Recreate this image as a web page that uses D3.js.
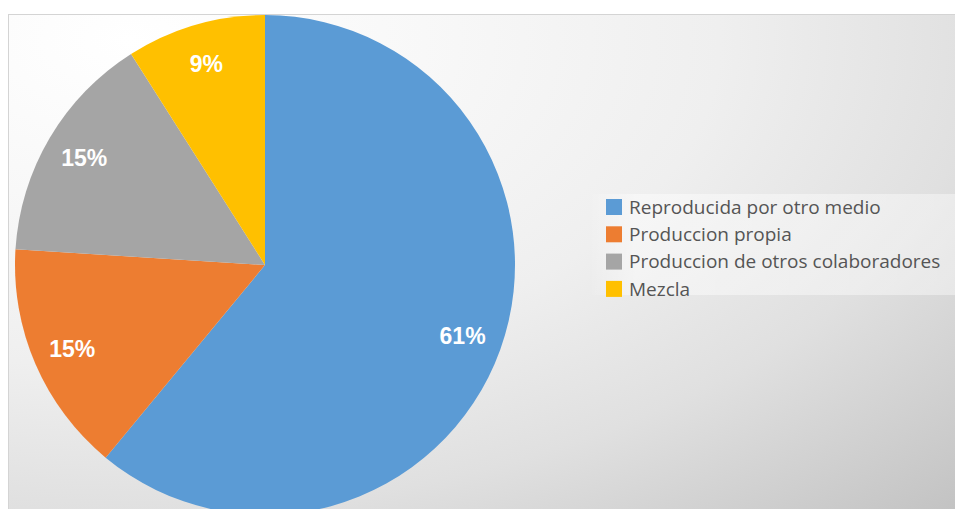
<!DOCTYPE html>
<html>
<head>
<meta charset="utf-8">
<script src="https://cdn.jsdelivr.net/npm/d3@7/dist/d3.min.js"></script>
<style>
  html, body { margin: 0; padding: 0; background: #ffffff; overflow: hidden; }
  svg { display: block; }
</style>
</head>
<body>
<svg id="chart" width="955" height="509"></svg>
<script>
// Source categories and their shares (percent)
const categories = [
  "Reproducida por otro medio",
  "Produccion propia",
  "Produccion de otros colaboradores",
  "Mezcla"
];
const shares = [61, 15, 15, 9];
const sliceColors = ["#5B9BD5", "#ED7D31", "#A5A5A5", "#FFC000"];

const W = 955, H = 509;
const svg = d3.select("#chart");
const defs = svg.append("defs");

// Chart area background: elliptical white-to-grey fade from the upper left
const gx = 130, gy = 40, squash = 1.8;
const bg = defs.append("radialGradient")
  .attr("id", "areaFill")
  .attr("gradientUnits", "userSpaceOnUse")
  .attr("cx", gx).attr("cy", gy).attr("fx", gx).attr("fy", gy)
  .attr("r", 1180)
  .attr("gradientTransform", `translate(${gx},${gy}) scale(1,${1 / squash}) translate(${-gx},${-gy})`);
[[0, 255], [0.25, 248], [0.5, 239], [0.72, 224], [1, 195]].forEach(([o, v]) => {
  bg.append("stop").attr("offset", o).attr("stop-color", `rgb(${v},${v},${v})`);
});

// Legend panel: a light veil that fades in from its left edge
const lg = defs.append("linearGradient")
  .attr("id", "legendFill")
  .attr("gradientUnits", "objectBoundingBox")
  .attr("x1", 0).attr("y1", 0).attr("x2", 1).attr("y2", 0);
lg.append("stop").attr("offset", 0).attr("stop-color", "#ffffff").attr("stop-opacity", 0.05);
lg.append("stop").attr("offset", 0.12).attr("stop-color", "#ffffff").attr("stop-opacity", 0.45);
lg.append("stop").attr("offset", 1).attr("stop-color", "#ffffff").attr("stop-opacity", 0.4);

svg.append("rect")
  .attr("x", 8.5).attr("y", 14.5)
  .attr("width", W).attr("height", H)
  .attr("fill", "url(#areaFill)")
  .attr("stroke", "#d4d4d4")
  .attr("stroke-width", 1);

// Pie
const cx = 265, cy = 265, radius = 250;
const pie = d3.pie().sort(null).value(d => d.value);
const data = categories.map((c, i) => ({ name: c, value: shares[i], color: sliceColors[i] }));
const arcs = pie(data);
const arc = d3.arc().innerRadius(0).outerRadius(radius);
const labelArc = d3.arc().innerRadius(radius * 0.84).outerRadius(radius * 0.84);

const g = svg.append("g").attr("transform", `translate(${cx},${cy})`);
g.selectAll("path.slice")
  .data(arcs)
  .join("path")
  .attr("class", "slice")
  .attr("d", arc)
  .attr("fill", d => d.data.color);

g.selectAll("text.pct")
  .data(arcs)
  .join("text")
  .attr("class", "pct")
  .attr("transform", d => `translate(${labelArc.centroid(d)})`)
  .attr("text-anchor", "middle")
  .attr("dy", "0.36em")
  .attr("fill", "#ffffff")
  .attr("font-family", "Liberation Sans, Arial, sans-serif")
  .attr("font-weight", "bold")
  .attr("font-size", 23)
  .text(d => d3.format(".0%")(d.data.value / 100));

// Legend
const legendX = 592, legendY = 194, rowH = 27.3;
svg.append("rect")
  .attr("x", legendX).attr("y", legendY)
  .attr("width", W - legendX).attr("height", 101)
  .attr("fill", "url(#legendFill)");

const items = svg.append("g")
  .selectAll("g.item")
  .data(data)
  .join("g")
  .attr("class", "item")
  .attr("transform", (d, i) => `translate(${legendX + 14},${legendY + 5 + i * rowH})`);

items.append("rect")
  .attr("width", 16).attr("height", 16)
  .attr("fill", d => d.color);

items.append("text")
  .attr("x", 23).attr("y", 8)
  .attr("dy", "0.36em")
  .attr("fill", "#555555")
  .attr("font-family", "Open Sans, sans-serif")
  .attr("font-size", 19)
  .text(d => d.name);
</script>
</body>
</html>
